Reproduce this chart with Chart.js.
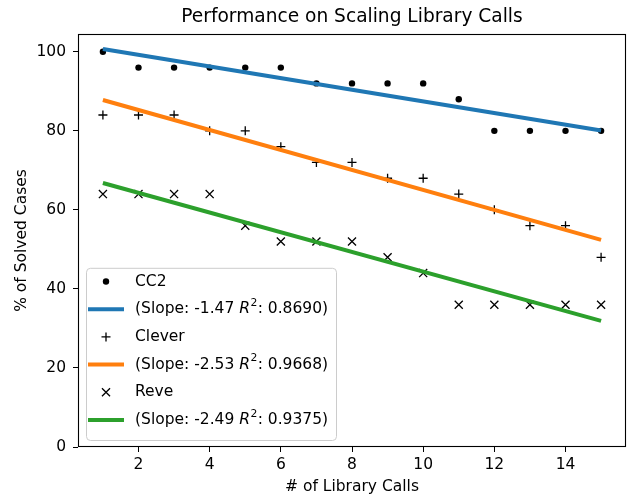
<!DOCTYPE html>
<html>
<head>
<meta charset="utf-8">
<script src="https://cdn.jsdelivr.net/npm/chart.js@4.4.1/dist/chart.umd.min.js"></script>
<style>
  html, body { margin: 0; padding: 0; background: #fff; }
</style>
</head>
<body>
<canvas id="chart" width="633" height="496"></canvas>
<script>
const TITLE = "Performance on Scaling Library Calls";
const X_LABEL = "# of Library Calls";
const Y_LABEL = "% of Solved Cases";

const libraryCalls = [1, 2, 3, 4, 5, 6, 7, 8, 9, 10, 11, 12, 13, 14, 15];
const cc2Solved = [100, 96, 96, 96, 96, 96, 92, 92, 92, 92, 88, 80, 80, 80, 80];
const cleverSolved = [84, 84, 84, 80, 80, 76, 72, 72, 68, 68, 64, 60, 56, 56, 48];
const reveSolved = [64, 64, 64, 64, 56, 52, 52, 52, 48, 44, 36, 36, 36, 36, 36];

// regression lines, read at both ends
const fitX = [1, 15];
const cc2Fit = [100.7, 80.1];
const cleverFit = [87.8, 52.4];
const reveFit = [66.8, 31.9];

const toolNames = ["CC2", "Clever", "Reve"];
const fitSlopes = ["-1.47", "-2.53", "-2.49"];
const fitR2 = ["0.8690", "0.9668", "0.9375"];

const xTicks = [2, 4, 6, 8, 10, 12, 14];
const yTicks = [0, 20, 40, 60, 80, 100];

const FONT = '"DejaVu Sans"';
const TEXT_SIZE = 15.5;
const lineColors = ["#1f77b4", "#ff7f0e", "#2ca02c"];
const markerStyles = ["circle", "cross", "crossRot"];
const markerSizes = [3.2, 4.5, 5.7];

Chart.defaults.font.family = FONT;
Chart.defaults.color = "#000";

const toPoints = (xs, ys) => xs.map((x, i) => ({x: x, y: ys[i]}));

const buildDatasets = () => {
    const series = [cc2Solved, cleverSolved, reveSolved];
    const fits = [cc2Fit, cleverFit, reveFit];
    const datasets = [];
    series.forEach((values, i) => {
        datasets.push({
            label: toolNames[i],
            data: toPoints(libraryCalls, values),
            showLine: false,
            pointStyle: markerStyles[i],
            pointRadius: markerSizes[i],
            pointBackgroundColor: "#000",
            pointBorderColor: "#000",
            pointBorderWidth: i == 0 ? 0 : 1.3
        });
        datasets.push({
            label: "(Slope: " + fitSlopes[i] + " R²: " + fitR2[i] + ")",
            data: toPoints(fitX, fits[i]),
            showLine: true,
            borderColor: lineColors[i],
            borderWidth: 4,
            pointRadius: 0
        });
    });
    // later datasets sit on top, like matplotlib
    datasets.forEach((d, i) => { d.order = -i; });
    return datasets;
};

const drawMarker = (ctx, style, r, x, y) => {
    ctx.beginPath();
    if (style == "circle") {
        ctx.arc(x, y, r, 0, Math.PI * 2);
        ctx.fill();
        return;
    }
    if (style == "cross") {
        ctx.moveTo(x - r, y); ctx.lineTo(x + r, y);
        ctx.moveTo(x, y - r); ctx.lineTo(x, y + r);
    } else {
        const d = r * Math.SQRT1_2;
        ctx.moveTo(x - d, y - d); ctx.lineTo(x + d, y + d);
        ctx.moveTo(x - d, y + d); ctx.lineTo(x + d, y - d);
    }
    ctx.stroke();
};

const drawLabel = (ctx, text, x, y) => {
    const base = TEXT_SIZE + "px " + FONT;
    const parts = text.split("R²");
    ctx.font = base;
    ctx.fillText(parts[0], x, y);
    if (parts.length == 1) {
        return ctx.measureText(parts[0]).width;
    }
    let cx = x + ctx.measureText(parts[0]).width;
    ctx.font = "italic " + base;
    ctx.fillText("R", cx, y);
    cx += ctx.measureText("R").width;
    ctx.font = "10.8px " + FONT;
    ctx.fillText("2", cx + 0.5, y - 6);
    cx += ctx.measureText("2").width + 0.8;
    ctx.font = base;
    ctx.fillText(parts[1], cx, y);
    cx += ctx.measureText(parts[1]).width;
    return cx - x;
};

const framePlugin = {
    id: "frameAndTitle",
    afterDraw(chart) {
        const ctx = chart.ctx;
        const a = chart.chartArea;
        ctx.save();
        ctx.strokeStyle = "#000";
        ctx.lineWidth = 1.1;
        ctx.strokeRect(a.left + 0.5, a.top + 0.5, a.right - a.left - 1, a.bottom - a.top - 1);
        ctx.fillStyle = "#000";
        ctx.font = "18.6px " + FONT;
        ctx.textAlign = "center";
        ctx.textBaseline = "middle";
        ctx.fillText(TITLE, (a.left + a.right) / 2, 17);
        ctx.restore();
    }
};

const legendPlugin = {
    id: "insideLegend",
    afterDraw(chart) {
        const ctx = chart.ctx;
        const a = chart.chartArea;
        const datasets = chart.data.datasets;
        const rowHeight = 27.7;
        const left = a.left + 8;
        const height = datasets.length * rowHeight + 6;
        const top = a.bottom - 7 - height;
        const width = 250;

        ctx.save();
        ctx.beginPath();
        ctx.roundRect(left + 0.5, top + 0.5, width, height, 4);
        ctx.fillStyle = "rgba(255,255,255,0.8)";
        ctx.fill();
        ctx.strokeStyle = "#cccccc";
        ctx.lineWidth = 1;
        ctx.stroke();

        ctx.textBaseline = "middle";
        ctx.textAlign = "left";
        datasets.forEach((d, i) => {
            const y = top + 13.7 + i * rowHeight;
            if (d.showLine) {
                ctx.strokeStyle = d.borderColor;
                ctx.lineWidth = d.borderWidth;
                ctx.beginPath();
                ctx.moveTo(left + 2, y);
                ctx.lineTo(left + 38, y);
                ctx.stroke();
            } else {
                ctx.fillStyle = "#000";
                ctx.strokeStyle = "#000";
                ctx.lineWidth = 1.3;
                drawMarker(ctx, d.pointStyle, d.pointRadius, left + 20, y);
            }
            ctx.fillStyle = "#000";
            drawLabel(ctx, d.label, left + 49, y);
        });
        ctx.restore();
    }
};

const tickFont = {size: TEXT_SIZE, family: FONT};

new Chart(document.getElementById("chart"), {
    type: "scatter",
    data: {datasets: buildDatasets()},
    plugins: [framePlugin, legendPlugin],
    options: {
        responsive: false,
        animation: false,
        events: [],
        layout: {padding: {top: 34, right: 1, bottom: 0, left: 0}},
        plugins: {
            legend: {display: false},
            title: {display: false},
            tooltip: {enabled: false}
        },
        scales: {
            x: {
                type: "linear",
                min: 0.3,
                max: 15.7,
                afterBuildTicks: (scale) => { scale.ticks = xTicks.map((v) => ({value: v})); },
                afterFit: (scale) => { scale.height = 49; },
                ticks: {font: tickFont, padding: 4, color: "#000"},
                grid: {drawOnChartArea: false, drawTicks: true, tickLength: 5, color: "#000"},
                border: {display: false},
                title: {display: true, text: X_LABEL, font: tickFont, color: "#000", padding: {top: 0, bottom: 0}}
            },
            y: {
                type: "linear",
                min: 0,
                max: 104.5,
                afterBuildTicks: (scale) => { scale.ticks = yTicks.map((v) => ({value: v})); },
                afterFit: (scale) => { scale.width = 78; },
                ticks: {font: tickFont, padding: 7, color: "#000"},
                grid: {drawOnChartArea: false, drawTicks: true, tickLength: 5, color: "#000"},
                border: {display: false},
                title: {display: true, text: Y_LABEL, font: tickFont, color: "#000", padding: {top: 12.5, bottom: 0}}
            }
        }
    }
});
</script>
</body>
</html>
